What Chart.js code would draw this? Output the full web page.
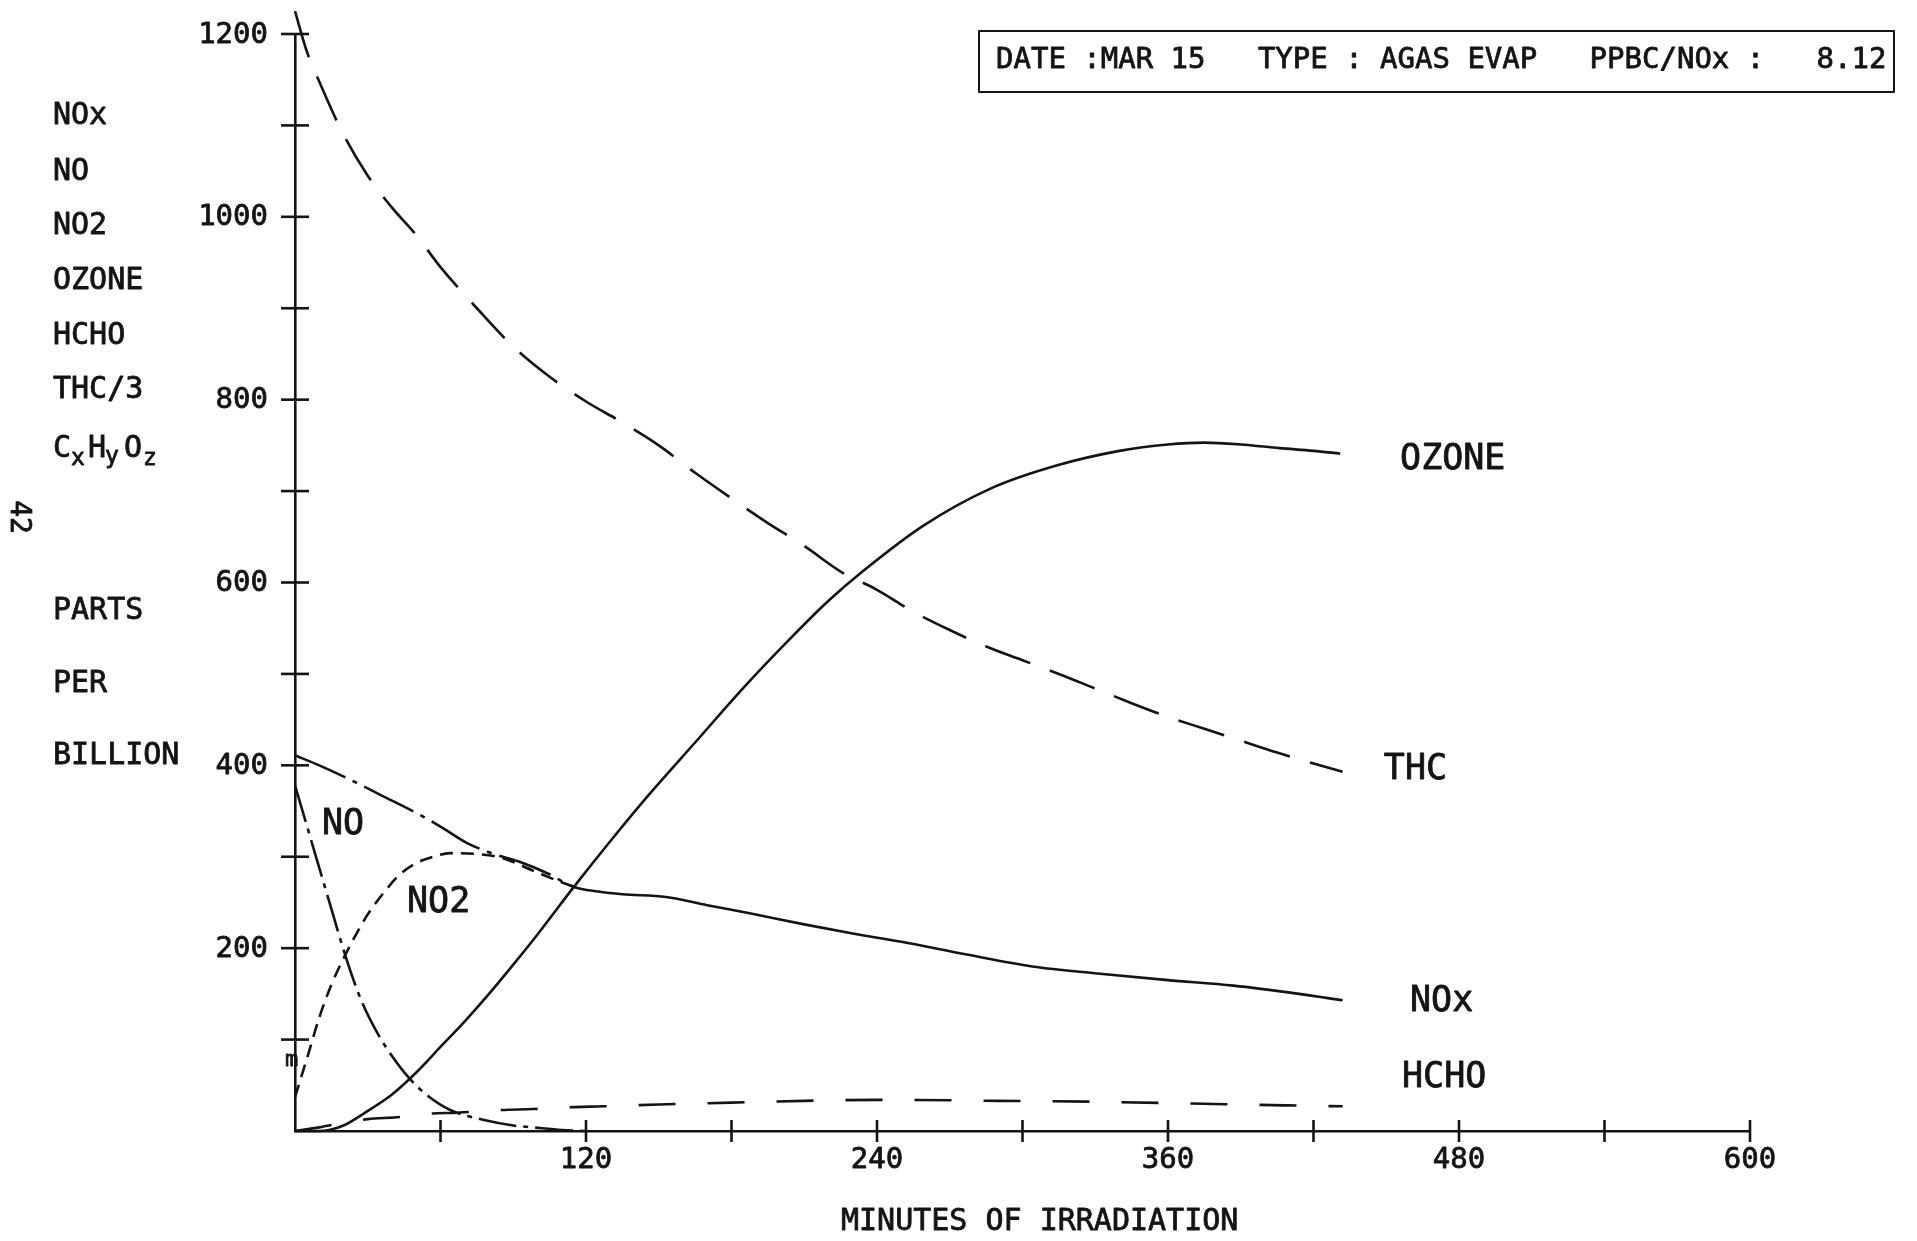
<!DOCTYPE html>
<html>
<head>
<meta charset="utf-8">
<title>MAR 15 - AGAS EVAP</title>
<script src="https://cdn.jsdelivr.net/npm/chart.js@4.4.1/dist/chart.umd.min.js"></script>
<style>
  html, body { margin: 0; padding: 0; background: #fff; }
  #wrap { position: relative; width: 1917px; height: 1241px; }
</style>
</head>
<body>
<div id="wrap"><canvas id="canvas"></canvas></div>
<script>
  // minutes / ppb for each trace
  var thcMin   = [0, 5, 10, 20, 30, 40, 50, 60, 75, 90, 105, 120, 135, 150, 165, 180, 195, 210, 225, 240, 255, 270, 285, 300, 315, 330, 345, 360, 375, 390, 405, 420, 432];
  var thcPpb   = [1225, 1180, 1148, 1090, 1045, 1010, 980, 945, 900, 858, 825, 798, 775, 750, 720, 692, 665, 640, 612, 592, 568, 548, 530, 515, 500, 484, 468, 453, 440, 427, 414, 402, 393];

  var ozoneMin = [0, 10, 14, 20, 30, 40, 50, 60, 70, 80, 90, 100, 115, 130, 145, 166, 185, 204, 220, 234, 259, 287, 314, 340, 360, 375, 390, 406, 420, 431];
  var ozonePpb = [0, 0, 1, 6, 22, 40, 64, 92, 120, 150, 182, 215, 267, 317, 365, 428, 485, 538, 580, 612, 662, 703, 728, 744, 751, 753, 751, 747, 744, 741];

  var noxMin   = [0, 10, 23, 35, 50, 60, 71, 82, 92, 104, 115, 125, 135, 153, 170, 188, 210, 230, 250, 277, 304, 332, 360, 387, 414, 432];
  var noxPpb   = [411, 400, 384, 368, 348, 333, 315, 303, 295, 282, 267, 262, 259, 256, 247, 238, 226, 216, 207, 193, 180, 172, 165, 159, 150, 143];

  var no2Min   = [0, 5, 10, 15, 21, 26, 30, 37, 43, 50, 57, 64, 75, 85, 98, 108, 115];
  var no2Ppb   = [37, 80, 124, 160, 194, 219, 237, 262, 280, 293, 300, 304, 303, 299, 285, 274, 267];

  var noMin    = [0, 7, 14, 21, 27, 34, 40, 47, 55, 64, 78, 90, 98, 110, 120];
  var noPpb    = [378, 315, 252, 190, 145, 107, 82, 58, 38, 23, 12, 6, 4, 1, 0];

  var hchoMin  = [0, 10, 20, 30, 42, 56, 67, 85, 98, 113, 127, 150, 180, 210, 240, 250, 290, 330, 370, 410, 432];
  var hchoPpb  = [0, 4, 9, 13, 15, 19, 20, 23, 24, 26, 27, 29, 31, 33, 34, 34, 33, 32, 30, 28, 27];

  var xLabels = [120, 240, 360, 480, 600];
  var yLabels = [200, 400, 600, 800, 1000, 1200];

  // NOx is dash-dot until it joins NO2, solid after
  var noxDashEnd = 115;

  var FONT = '"DejaVu Sans Mono", monospace';
  var INK = '#141414';

  function pts(xs, ys) {
    return xs.map(function (x, i) { return { x: x, y: ys[i] }; });
  }

  function trace(label, xs, ys, dash) {
    return {
      label: label,
      data: pts(xs, ys),
      borderColor: INK,
      borderWidth: 2.6,
      borderDash: dash,
      pointRadius: 0,
      fill: false,
      cubicInterpolationMode: 'monotone',
      clip: false
    };
  }

  var nox = trace('NOx', noxMin, noxPpb, []);
  nox.segment = {
    borderDash: function (c) { return c.p1.parsed.x <= noxDashEnd ? [55, 8, 5, 8] : []; }
  };

  // labels beside the curves, in data units
  var curveNotes = [
    { text: 'OZONE', x: 455.7, y: 734 },
    { text: 'THC',   x: 449,   y: 395 },
    { text: 'NOx',   x: 459.8, y: 141 },
    { text: 'HCHO',  x: 456.5, y: 58 },
    { text: 'NO',    x: 11.1,  y: 335 },
    { text: 'NO2',   x: 46.2,  y: 250 }
  ];

  var sideLabels = [
    ['NOx', 116], ['NO', 172], ['NO2', 226], ['OZONE', 281], ['HCHO', 336], ['THC/3', 390],
    ['PARTS', 611], ['PER', 684], ['BILLION', 756]
  ];

  // plotter pen text is a bit heavier than the plain font
  function pen(ctx, s, x, y) {
    ctx.fillText(s, x, y);
    ctx.strokeText(s, x, y);
  }

  var plotterMarks = {
    id: 'plotterMarks',
    afterDraw: function (chart) {
      var ctx = chart.ctx, xs = chart.scales.x, ys = chart.scales.y, a = chart.chartArea;
      ctx.save();
      ctx.strokeStyle = INK;
      ctx.fillStyle = INK;
      ctx.lineWidth = 2.6;

      // tick crosses on both axes
      ys.ticks.forEach(function (t) {
        if (t.value <= 0) return;
        var y = ys.getPixelForValue(t.value);
        ctx.beginPath(); ctx.moveTo(a.left - 14, y); ctx.lineTo(a.left + 14, y); ctx.stroke();
      });
      xs.ticks.forEach(function (t) {
        if (t.value <= 0) return;
        var x = xs.getPixelForValue(t.value);
        ctx.beginPath(); ctx.moveTo(x, a.bottom - 11); ctx.lineTo(x, a.bottom + 11); ctx.stroke();
      });

      ctx.lineWidth = 0.8;
      ctx.lineJoin = 'round';

      // tick labels
      ctx.font = '29px ' + FONT;
      ctx.textBaseline = 'middle';
      ctx.textAlign = 'right';
      yLabels.forEach(function (v) { pen(ctx, String(v), a.left - 27, ys.getPixelForValue(v) + 1); });
      ctx.textAlign = 'center';
      xLabels.forEach(function (v) { pen(ctx, String(v), xs.getPixelForValue(v), a.bottom + 29); });

      ctx.textAlign = 'left';
      ctx.font = '35px ' + FONT;
      curveNotes.forEach(function (n) {
        pen(ctx, n.text, xs.getPixelForValue(n.x), ys.getPixelForValue(n.y));
      });

      // species list and units down the left side
      ctx.font = '30px ' + FONT;
      sideLabels.forEach(function (l) { pen(ctx, l[0], 53, l[1]); });

      // CxHyOz with subscripts
      ctx.textBaseline = 'alphabetic';
      var big = '30px ' + FONT, small = '23px ' + FONT;
      [['C', 53, 457, big], ['x', 71, 465, small], ['H', 88, 457, big], ['y', 105, 463, small],
       ['O', 124, 457, big], ['z', 143, 465, small]].forEach(function (c) {
        ctx.font = c[3];
        pen(ctx, c[0], c[1], c[2]);
      });

      // small pen mark on the y axis near 80 ppb
      ctx.font = '22px ' + FONT;
      pen(ctx, 'm', a.left - 10, 1066);

      // axis title
      ctx.font = '30px ' + FONT;
      ctx.textBaseline = 'middle';
      pen(ctx, 'MINUTES OF IRRADIATION', 841, 1222);

      // run info box
      ctx.font = '29px ' + FONT;
      pen(ctx, 'DATE :MAR 15   TYPE : AGAS EVAP   PPBC/NOx :   8.12', 996, 60);
      ctx.lineWidth = 2;
      ctx.strokeRect(979, 31, 915, 61);

      // page number, turned on its side
      ctx.lineWidth = 0.8;
      ctx.translate(18, 517);
      ctx.rotate(Math.PI / 2);
      ctx.textAlign = 'center';
      ctx.font = '28px ' + FONT;
      pen(ctx, '42', 0, 0);

      ctx.restore();
    }
  };

  new Chart(document.getElementById('canvas'), {
    type: 'line',
    data: {
      datasets: [
        trace('THC/3', thcMin, thcPpb, [48, 21]),
        trace('OZONE', ozoneMin, ozonePpb, []),
        nox,
        trace('NO2', no2Min, no2Ppb, [13, 8]),
        trace('NO', noMin, noPpb, [38, 7, 5, 7]),
        trace('HCHO', hchoMin, hchoPpb, [37, 32])
      ]
    },
    options: {
      responsive: true,
      maintainAspectRatio: false,
      animation: false,
      layout: { padding: { top: 34, right: 167, bottom: 0, left: 0 } },
      plugins: { legend: { display: false }, tooltip: { enabled: false } },
      scales: {
        x: {
          type: 'linear', min: 0, max: 600,
          grid: { display: false, drawTicks: false },
          border: { display: true, color: INK, width: 2.6 },
          ticks: { stepSize: 60, autoSkip: false, display: false },
          afterFit: function (s) { s.height = 110; }
        },
        y: {
          min: 0, max: 1200,
          grid: { display: false, drawTicks: false },
          border: { display: true, color: INK, width: 2.6 },
          ticks: { stepSize: 100, autoSkip: false, display: false },
          afterFit: function (s) { s.width = 295; }
        }
      }
    },
    plugins: [plotterMarks]
  });
</script>
</body>
</html>
